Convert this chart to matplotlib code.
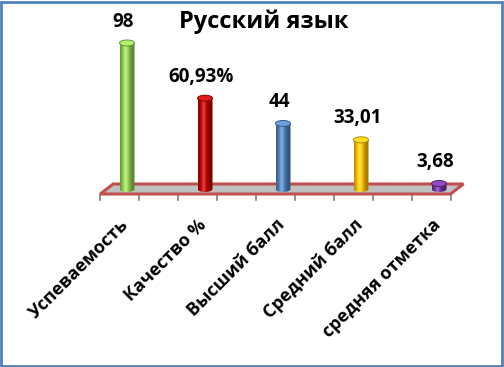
import numpy as np
import matplotlib; matplotlib.use("Agg")
import matplotlib.pyplot as plt
import matplotlib.colors as mc
from matplotlib.patches import Polygon, Ellipse, Rectangle, PathPatch
from matplotlib.path import Path

plt.rcParams["font.family"] = ["Open Sans", "DejaVu Sans"]

title = "Русский язык"
categories = ["Успеваемость", "Качество %", "Высший балл", "Средний балл", "средняя отметка"]
values = [98, 60.93, 44, 33.01, 3.68]
value_labels = ["98", "60,93%", "44", "33,01", "3,68"]
colors = ["#92D050", "#C00000", "#4F81BD", "#FFC000", "#7030A0"]

W, H = 504, 367
fig = plt.figure(figsize=(W / 100, H / 100), dpi=100)
ax = fig.add_axes([0, 0, 1, 1])
ax.axis("off")

# pixel layout: category i centred at px X0 + DX*i, value v at py = Y0 - DY*v (from top)
X0, DX = 127, 78
Y0, DY = 189, 1.49
xlim = (-X0 / DX, (W - X0) / DX)
ylim = ((Y0 - H) / DY, Y0 / DY)

bw = 15 / DX          # cylinder width
eh = 6 / DY           # ellipse height
ddx, ddy = 6.5 / DX, 5 / DY   # half depth of the floor
n = len(values)
lo, hi = -0.26, n - 0.77

# floor
floor = Polygon([(lo - ddx, -ddy), (hi - ddx, -ddy), (hi + ddx, ddy), (lo + ddx, ddy)],
                closed=True, facecolor="#C0C0C0", edgecolor="#C0504D", lw=2.2, zorder=1)
ax.add_patch(floor)
for k in range(2 * n):
    tx = lo - ddx + 0.5 * k
    ax.plot([tx, tx], [-ddy - 1 / DY, -ddy - 6 / DY], color="#808080", lw=1.2, zorder=0)

t = np.linspace(0, 1, 64)
shade = 0.62 + 0.5 * np.exp(-((t - 0.38) / 0.3) ** 2)
glow = 0.25 * np.exp(-((t - 0.38) / 0.12) ** 2)

for i, (v, c) in enumerate(zip(values, colors)):
    rgb = np.array(mc.to_rgb(c))
    col = np.clip(rgb[None, :] * shade[:, None], 0, 1)
    col = col + (1 - col) * glow[:, None]
    img = np.repeat(col[None, :, :], 2, axis=0)
    th = np.linspace(np.pi, 2 * np.pi, 40)
    arc = np.column_stack([i + bw / 2 * np.cos(th), eh / 2 * np.sin(th)])
    verts = np.vstack([[i - bw / 2, v], arc, [i + bw / 2, v], [i - bw / 2, v]])
    body = PathPatch(Path(verts, closed=True), facecolor="none", edgecolor="none", zorder=2)
    ax.add_patch(body)
    im = ax.imshow(img, extent=[i - bw / 2, i + bw / 2, -eh / 2, v], aspect="auto",
                   origin="lower", zorder=2, interpolation="bilinear")
    im.set_clip_path(body)
    top = np.clip(rgb * 1.05 + 0.1, 0, 1)
    ax.add_patch(Ellipse((i, v), bw, eh, facecolor=top,
                         edgecolor=np.clip(rgb * 0.7, 0, 1), lw=0.7, zorder=3))
    ax.annotate(value_labels[i], (i - 4 / DX, v + eh / 2), xytext=(0, 6),
                textcoords="offset points", ha="center", va="bottom",
                fontsize=13.5, fontweight="bold", zorder=4)
    ax.text(i - 1 / DX, -33 / DY, categories[i], rotation=45, rotation_mode="anchor",
            ha="right", va="center", fontsize=13, fontweight="bold")

ax.set_xlim(*xlim)
ax.set_ylim(*ylim)

fig.text(264 / W, 1 - 22 / H, title, ha="center", va="center", fontsize=17, fontweight="bold")
fig.add_artist(Rectangle((1 / W, 1 / H), (W - 3) / W, (H - 3) / H, transform=fig.transFigure,
                         fill=False, edgecolor="#4F81BD", lw=2))

fig.savefig("out.png", dpi=100)
